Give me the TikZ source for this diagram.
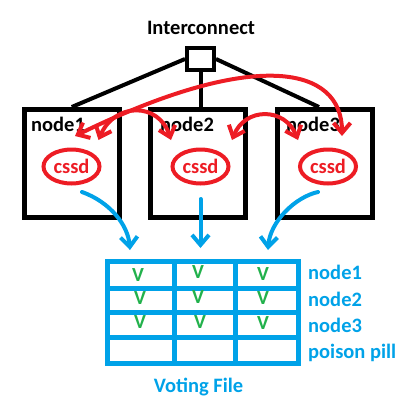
\documentclass[tikz,border=0pt]{standalone}
\usepackage{fontspec}
\setmainfont{Carlito}
\usetikzlibrary{arrows.meta, shapes.geometric}
\definecolor{paintred}{HTML}{ED1C24}
\definecolor{paintblue}{HTML}{00A2E8}
\definecolor{paintgreen}{HTML}{22B14C}
\tikzset{
    nodebox/.style={draw, line width=5pt, minimum width=95pt, minimum height=107.5pt, inner sep=0pt},
    cssdring/.style={ellipse, draw=paintred, text=paintred, line width=4pt, minimum width=56pt, minimum height=34pt, inner sep=0pt, font=\bfseries\fontsize{20.5}{24}\selectfont},
    tag/.style={inner sep=0pt, font=\bfseries\fontsize{20.5}{24}\selectfont},
    rowtag/.style={tag, text=paintblue},
    vote/.style={inner sep=0pt, text=paintgreen, font=\bfseries\fontsize{20}{22}\selectfont},
    link/.style={line width=4pt},
    grid line/.style={draw=paintblue, line width=5pt},
    beat/.style={draw=paintred, line width=4pt, line cap=round, {Straight Barb[length=10pt,width=17pt]}-{Straight Barb[length=10pt,width=17pt]}},
    vwrite/.style={draw=paintblue, line width=4pt, line cap=round, -{Straight Barb[length=10pt,width=17pt]}},
}
\begin{document}
\begin{tikzpicture}[x=1pt, y=-1pt]
\useasboundingbox (0,0) rectangle (415,407);
% interconnect
\node[tag, anchor=base] (iclabel) at (201,34) {Interconnect};
\node[draw, line width=4pt, minimum width=27pt, minimum height=22.5pt, inner sep=0pt] (ic) at (200.5,59) {};
% nodes
\node[nodebox] (n1) at (71.75,163.25) {};
\node[nodebox] (n2) at (198,163.25) {};
\node[nodebox] (n3) at (325,163.25) {};
\node[tag, anchor=base west] (n1label) at (31,131) {node1};
\node[tag, anchor=base west] (n2label) at (160,131) {node2};
\node[tag, anchor=base west] (n3label) at (286,131) {node3};
\draw[link] (ic.west) -- (n1.north);
\draw[link] (ic.south) -- (ic.south |- n2.north);
\draw[link] (ic.east) -- ([xshift=-6pt]n3.north);
% cssd
\node[cssdring] (c1) at (71.5,166.5) {cssd};
\node[cssdring] (c2) at (200.5,166.5) {cssd};
\node[cssdring] (c3) at (328,166.5) {cssd};
% heartbeats
\draw[beat] ([shift={(3.5,-11.5)}]c1.north) .. controls +(180,-88) and +(0,-70) .. ([shift={(14,-11.5)}]c3.north);
\draw[beat] ([shift={(27,-7.5)}]c1.north) .. controls +(16,-38) and +(-12,-38) .. ([shift={(-29.5,-7.5)}]c2.north);
\draw[beat] ([shift={(31.5,-7.5)}]c2.north) .. controls +(13,-33) and +(-13,-33) .. ([shift={(-30,-7.5)}]c3.north);
% voting file
\coordinate (in1) at (130,250);
\coordinate (in2) at (200.5,248);
\coordinate (in3) at (268,250);
\draw[vwrite] ([shift={(10.5,6.5)}]c1.south) .. controls +(28,10) and +(-2,-25) .. (in1);
\draw[vwrite] ([shift={(0,13.5)}]c2.south) -- (in2);
\draw[vwrite] ([shift={(-10,6.5)}]c3.south) .. controls +(-23,5) and +(2,-28) .. (in3);
\draw[grid line] (107,261) rectangle (298,363);
\foreach \y in {288,312.5,337.5}
    \draw[grid line] (107,\y) -- (298,\y);
\foreach \x in {174,235.5}
    \draw[grid line] (\x,261) -- (\x,363);
\foreach \x/\y [count=\i] in {138/275,198/272,263/274,140/298,198/297,263/298,140/322,200/322,263/323}
    \node[vote] (v\i) at (\x,\y) {V};
\foreach \t/\y [count=\i] in {node1/279,node2/306,node3/332,poison pill/358}
    \node[rowtag, anchor=base west] (r\i) at (308,\y) {\t};
\node[rowtag, anchor=base] (vflabel) at (198.5,392) {Voting File};
\end{tikzpicture}
\end{document}
